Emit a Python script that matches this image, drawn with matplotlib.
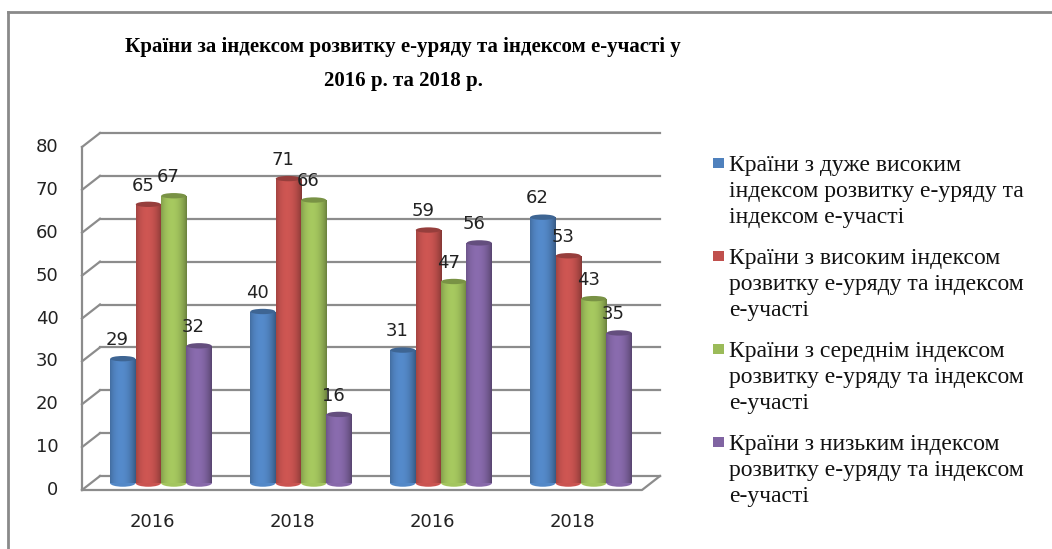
import numpy as np
import matplotlib
matplotlib.use('Agg')
import matplotlib.pyplot as plt
from matplotlib.patches import Ellipse, Rectangle
from matplotlib.lines import Line2D
from matplotlib.colors import to_rgb

# data
categories = ['2016', '2018', '2016', '2018']
very_high = [29, 40, 31, 62]
high = [65, 71, 59, 53]
middle = [67, 66, 47, 43]
low = [32, 16, 56, 35]
series = [very_high, high, middle, low]
labels = ['Країни з дуже високим\nіндексом розвитку е-уряду та\nіндексом е-участі',
          'Країни з високим індексом\nрозвитку е-уряду та індексом\nе-участі',
          'Країни з середнім індексом\nрозвитку е-уряду та індексом\nе-участі',
          'Країни з низьким індексом\nрозвитку е-уряду та індексом\nе-участі']
colors = ['#4F81BD', '#C0504D', '#9BBB59', '#8064A2']
yticks = list(range(0, 81, 10))
title = 'Країни за індексом розвитку е-уряду та індексом е-участі у\n2016 р. та 2018 р.'

W, H = 1052, 549
fig = plt.figure(figsize=(W / 100, H / 100), dpi=100)
fig.patch.set_facecolor('white')

# outer frame (chart area border)
frame_col = '#8a8a8a'
fig.add_artist(Line2D([8 / W, 8 / W], [0, 1 - 12 / H], transform=fig.transFigure, color=frame_col, lw=2))
fig.add_artist(Line2D([8 / W, 1], [1 - 12 / H, 1 - 12 / H], transform=fig.transFigure, color=frame_col, lw=2))

# axes: mid depth plane
ax = fig.add_axes([91 / W, 66 / H, 560 / W, 343 / H])
ax.set_xlim(-0.5, 3.5)
ax.set_ylim(0, 80)
ax.axis('off')

# depth offset in data units (back wall = +, front = -)
dx = 9 / 140.
dy = 7 / (343 / 80.)
grid_col = '#8c8c8c'
x0, x1 = -0.5, 3.5

for v in yticks:
    # back wall line
    ax.plot([x0 + dx, x1 + dx], [v + dy, v + dy], color=grid_col, lw=1.6, clip_on=False, zorder=1)
    # side wall diagonal
    ax.plot([x0 - dx, x0 + dx], [v - dy, v + dy], color=grid_col, lw=1.6, clip_on=False, zorder=1)
    ax.annotate(str(v), (x0 - dx, v - dy), xytext=(-17, 0), textcoords='offset points',
                ha='right', va='center', fontsize=13, color='#222222', annotation_clip=False)
# front left vertical and floor
ax.plot([x0 - dx, x0 - dx], [0 - dy, 80 - dy], color=grid_col, lw=1.6, clip_on=False, zorder=1)
ax.plot([x0 - dx, x1 - dx, x1 + dx], [-dy, -dy, dy], color=grid_col, lw=1.6, clip_on=False, zorder=1)

x = np.arange(len(categories))
bw = 0.182
offsets = (np.arange(4) - 1.5) * bw
cap_h = 1.25


def shade(c, n=64):
    r, g, b = to_rgb(c)
    t = np.linspace(0, 1, n)
    f = 0.70 + 0.45 * np.sin(np.pi * (t * 0.9 + 0.05)) ** 0.6
    f = f - 0.16 * t
    img = np.zeros((1, n, 3))
    for i, ch in enumerate((r, g, b)):
        img[0, :, i] = np.clip(ch * f, 0, 1)
    return img


for s, vals, c in zip(range(4), series, colors):
    bars = ax.bar(x + offsets[s], vals, bw, color=c, zorder=3, clip_on=False, lw=0)
    img = shade(c)
    for b, v in zip(bars, vals):
        bx = b.get_x()
        im = ax.imshow(img, extent=[bx, bx + bw, 0, v], aspect='auto', zorder=3.1,
                       interpolation='bilinear')
        im.set_clip_path(b)
        im.set_clip_on(True)
        bot = Ellipse((bx + bw / 2, 0), bw, cap_h * 1.4, color=tuple(img[0, 30] * 0.98), zorder=2.9,
                      clip_on=False, lw=0)
        ax.add_patch(bot)
        r, g, bb = to_rgb(c)
        top = Ellipse((bx + bw / 2, v), bw * 0.98, cap_h, color=(r * 0.78, g * 0.78, bb * 0.78), zorder=3.2,
                      clip_on=False, lw=0)
        ax.add_patch(top)
        ax.annotate(str(v), (bx + bw / 2, v), xytext=(-4, 7), textcoords='offset points',
                    ha='center', va='bottom', fontsize=13, color='#222222', zorder=5,
                    annotation_clip=False)

for xi, cat in zip(x, categories):
    ax.annotate(cat, (xi - dx, -dy), xytext=(0, -23), textcoords='offset points',
                ha='center', va='center', fontsize=13, color='#222222', annotation_clip=False)

# title
fig.text(403 / W, 1 - 64 / H, title, ha='center', va='center', fontsize=15,
         fontweight='bold', family='Liberation Serif', linespacing=1.9)

# legend
for i, (lab, c) in enumerate(zip(labels, colors)):
    yt = 163 + i * 93
    fig.add_artist(Rectangle((713 / W, 1 - (yt + 5) / H), 11 / W, 10 / H,
                             transform=fig.transFigure, color=c, lw=0))
    fig.text(729 / W, 1 - (yt - 8) / H, lab, ha='left', va='top', fontsize=17,
             family='Liberation Serif', linespacing=1.31, color='#111111')

fig.savefig('out.png', dpi=100)
